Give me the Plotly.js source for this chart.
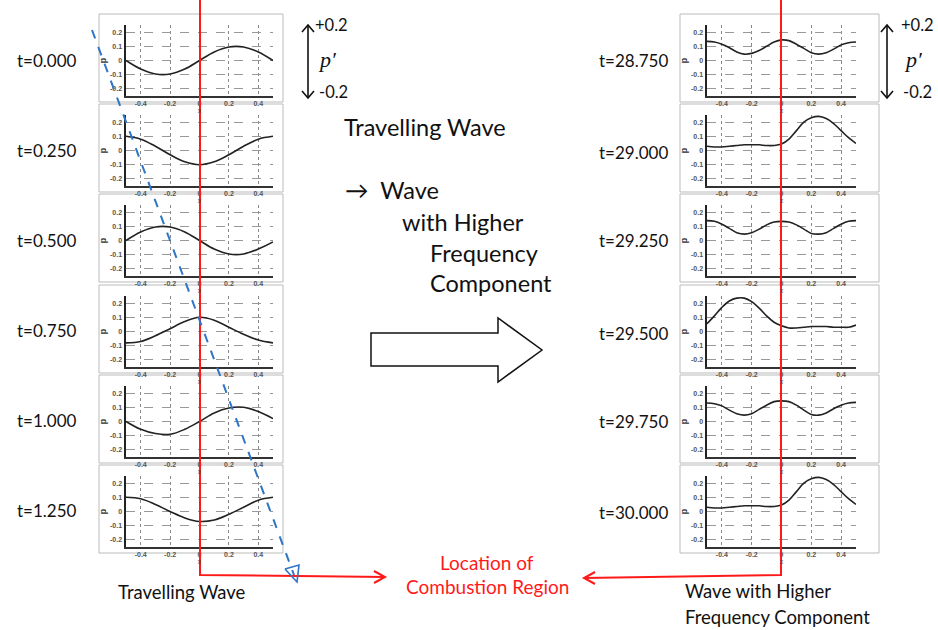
<!DOCTYPE html>
<html><head><meta charset="utf-8">
<script src="https://cdn.plot.ly/plotly-3.0.1.min.js"></script>
<style>html,body{margin:0;padding:0;background:#fff}#c{width:938px;height:630px}</style>
</head><body><div id="c"></div>
<script>
// ---- data ----
const xLeft = [-0.5,-0.4,-0.3,-0.2,-0.1,0,0.1,0.2,0.3,0.4,0.5];
const xRight = [-0.5,-0.45,-0.4,-0.35,-0.3,-0.25,-0.2,-0.15,-0.1,-0.05,0,0.05,0.1,0.15,0.2,0.25,0.3,0.35,0.4,0.45,0.5];
const timesLeft = ["t=0.000","t=0.250","t=0.500","t=0.750","t=1.000","t=1.250"];
const timesRight = ["t=28.750","t=29.000","t=29.250","t=29.500","t=29.750","t=30.000"];
const pT0000 = [0,-0.06,-0.095,-0.095,-0.06,0,0.06,0.095,0.095,0.06,0];
const pT0250 = [0.1,0.08,0.03,-0.03,-0.08,-0.1,-0.08,-0.03,0.03,0.08,0.1];
const pT0500 = [0,0.06,0.095,0.095,0.06,0,-0.06,-0.095,-0.095,-0.06,-0.01];
const pT0750 = [-0.08,-0.07,-0.03,0.02,0.07,0.1,0.08,0.03,-0.02,-0.06,-0.08];
const pT1000 = [0,-0.055,-0.085,-0.09,-0.055,0,0.06,0.095,0.1,0.07,0.02];
const pT1250 = [0.1,0.09,0.05,0.0,-0.045,-0.07,-0.06,-0.02,0.03,0.08,0.1];
const pT28750 = [0.135,0.13,0.115,0.09,0.06,0.045,0.05,0.07,0.1,0.13,0.145,0.14,0.115,0.085,0.055,0.045,0.055,0.08,0.11,0.125,0.13];
const pT29000 = [0.03,0.025,0.025,0.03,0.035,0.04,0.04,0.04,0.035,0.035,0.045,0.08,0.14,0.2,0.23,0.24,0.225,0.19,0.14,0.09,0.05];
const pT29250 = [0.14,0.135,0.115,0.085,0.055,0.045,0.055,0.08,0.11,0.13,0.135,0.13,0.11,0.08,0.05,0.045,0.055,0.085,0.115,0.135,0.14];
const pT29500 = [0.055,0.11,0.17,0.215,0.235,0.235,0.21,0.165,0.11,0.065,0.04,0.025,0.025,0.03,0.035,0.035,0.035,0.03,0.03,0.03,0.045];
const pT29750 = [0.13,0.125,0.11,0.08,0.055,0.045,0.055,0.085,0.115,0.14,0.145,0.14,0.115,0.08,0.05,0.045,0.06,0.09,0.115,0.13,0.135];
const pT30000 = [0.03,0.025,0.025,0.03,0.035,0.04,0.04,0.04,0.035,0.035,0.045,0.08,0.14,0.2,0.23,0.24,0.225,0.19,0.14,0.09,0.05];
const xTickVals = [-0.4,-0.2,0,0.2,0.4];
const xTickText = ["-0.4","-0.2","0","0.2","0.4"];
const yTickVals = [-0.2,-0.1,0,0.1,0.2];
const yTickText = ["-0.2","-0.1","0","0.1","0.2"];

const leftSeries = [pT0000,pT0250,pT0500,pT0750,pT1000,pT1250];
const rightSeries = [pT28750,pT29000,pT29250,pT29500,pT29750,pT30000];

// ---- layout helpers ----
const W=938,H=630;
const px = v => v/W;
const py = v => 1 - v/H;
const P = pts => pts.map((p,i)=>(i?'L':'M')+px(p[0]).toFixed(5)+','+py(p[1]).toFixed(5)).join(' ');

const boxTops = [14,104,194,285,375,465];
const leftBox=[99,283], rightBox=[680,879];
const leftPlot=[126,273], rightPlot=[707,856];
const leftLabelY=[60,150,240,330,420,510];
const rightLabelY=[60,152,241,333,421,512];

const data=[]; const layout={width:W,height:H,margin:{l:0,r:0,t:0,b:0},showlegend:false,
  paper_bgcolor:'#fff',plot_bgcolor:'rgba(0,0,0,0)',shapes:[],annotations:[]};
const tickFont={family:'Liberation Sans, Arial',size:7,color:'#555',weight:'bold'};

function addPanel(n, xs, ys, plotX, top){
  data.push({x:xs,y:ys,type:'scatter',mode:'lines',line:{color:'#222',width:1.6,shape:'spline',smoothing:1},
    xaxis:'x'+n,yaxis:'y'+n,hoverinfo:'skip'});
  const xk='xaxis'+(n===1?'':n), yk='yaxis'+(n===1?'':n);
  layout[xk]={domain:[px(plotX[0]),px(plotX[1])],range:[-0.5,0.5],anchor:'y'+n,
    tickvals:xTickVals,ticktext:xTickText,tickfont:tickFont,ticks:'',ticklen:0,
    showgrid:true,gridcolor:'#888',griddash:'dot',gridwidth:1,zeroline:false,
    showline:true,linecolor:'#333',linewidth:1.5,
    title:{text:'x',font:{size:7,color:'#444',family:'Liberation Sans'},standoff:0},fixedrange:true};
  layout[yk]={domain:[py(top+82),py(top+11)],range:[-0.25,0.25],anchor:'x'+n,
    tickvals:yTickVals,ticktext:yTickText,tickfont:tickFont,ticks:'',
    showgrid:true,gridcolor:'#999',griddash:'dash',gridwidth:1,zeroline:false,
    showline:true,linecolor:'#222',linewidth:2.5,
    title:{text:'p',font:{size:9,color:'#333',family:'Liberation Sans',weight:'bold'},standoff:2},fixedrange:true};
}
for(let i=0;i<6;i++){
  addPanel(i+1,xLeft,leftSeries[i],leftPlot,boxTops[i]);
  addPanel(i+7,xRight,rightSeries[i],rightPlot,boxTops[i]);
  layout.shapes.push({type:'rect',xref:'paper',yref:'paper',x0:px(leftBox[0]),x1:px(leftBox[1]),y0:py(boxTops[i]+88),y1:py(boxTops[i]),line:{color:'#bbb',width:1},layer:'below'});
  layout.shapes.push({type:'rect',xref:'paper',yref:'paper',x0:px(rightBox[0]),x1:px(rightBox[1]),y0:py(boxTops[i]+88),y1:py(boxTops[i]),line:{color:'#bbb',width:1},layer:'below'});
  layout.annotations.push({xref:'paper',yref:'paper',x:px(47),y:py(leftLabelY[i]),text:timesLeft[i],showarrow:false,
    font:{family:'Lato, Open Sans',size:17,color:'#111'},xanchor:'center',yanchor:'middle'});
  layout.annotations.push({xref:'paper',yref:'paper',x:px(633),y:py(rightLabelY[i]),text:timesRight[i],showarrow:false,
    font:{family:'Lato, Open Sans',size:17,color:'#111'},xanchor:'center',yanchor:'middle'});
}
const red='#ff1a1a', blue='#2e75c6';
// red lines
layout.shapes.push({type:'path',xref:'paper',yref:'paper',path:P([[200,0],[200,575],[385,577]]),line:{color:red,width:2}});
layout.shapes.push({type:'path',xref:'paper',yref:'paper',path:P([[374,571],[385,577],[374,583]]),line:{color:red,width:2}});
layout.shapes.push({type:'path',xref:'paper',yref:'paper',path:P([[781,0],[781,575],[584,578]]),line:{color:red,width:2}});
layout.shapes.push({type:'path',xref:'paper',yref:'paper',path:P([[595,572],[584,578],[595,584]]),line:{color:red,width:2}});
// blue dashed
layout.shapes.push({type:'path',xref:'paper',yref:'paper',path:P([[92,30],[294,575]]),line:{color:blue,width:2,dash:'dash'}});
layout.shapes.push({type:'path',xref:'paper',yref:'paper',path:P([[285,569],[297,582],[299,565],[285,569]]),line:{color:blue,width:1.6}});
// hollow arrow
layout.shapes.push({type:'path',xref:'paper',yref:'paper',path:P([[371,333],[498,333],[498,318],[542,350],[498,382],[498,366],[371,366]])+' Z',line:{color:'#111',width:1.5},fillcolor:'#fff'});
// double arrows
function dbl(x){
  layout.shapes.push({type:'path',xref:'paper',yref:'paper',path:P([[x,25],[x,98]]),line:{color:'#111',width:1.6}});
  layout.shapes.push({type:'path',xref:'paper',yref:'paper',path:P([[x-6,32],[x,25],[x+6,32]]),line:{color:'#111',width:1.6}});
  layout.shapes.push({type:'path',xref:'paper',yref:'paper',path:P([[x-6,91],[x,98],[x+6,91]]),line:{color:'#111',width:1.6}});
}
dbl(308); dbl(887);
function txt(x,y,t,opt){
  layout.annotations.push(Object.assign({xref:'paper',yref:'paper',x:px(x),y:py(y),text:t,showarrow:false,
    font:{family:'Lato, Open Sans',size:16,color:'#111'},xanchor:'center',yanchor:'middle'},opt||{}));
}
const serif={family:'Liberation Serif, DejaVu Serif',size:22,color:'#111',style:'italic'};
const small={family:'Lato, Open Sans',size:16.5,color:'#111'};
txt(331,25,'+0.2',{font:small});
txt(327,59,'p′',{font:serif});
txt(333,92,'-0.2',{font:small});
txt(917,25,'+0.2',{font:small});
txt(913,59,'p′',{font:serif});
txt(917,92,'-0.2',{font:small});
const big={family:'Lato, Open Sans',size:23.5,color:'#111'};
txt(342,127,'Travelling Wave',{font:big,xanchor:'left'});
txt(343,190,'→  Wave',{font:big,xanchor:'left'});
txt(400,222,'with Higher',{font:big,xanchor:'left'});
txt(428,253,'Frequency',{font:big,xanchor:'left'});
txt(428,283,'Component',{font:big,xanchor:'left'});
const mid={family:'Lato, Open Sans',size:18.5,color:'#111'};
txt(182,592,'Travelling Wave',{font:mid});
txt(487,562,'Location of',{font:{family:'Lato, Open Sans',size:19,color:red}});
txt(487,586,'Combustion Region',{font:{family:'Lato, Open Sans',size:19,color:red}});
txt(683,591,'Wave with Higher',{font:mid,xanchor:'left'});
txt(683,617,'Frequency Component',{font:mid,xanchor:'left'});

Plotly.newPlot('c',data,layout,{staticPlot:true});
</script></body></html>
